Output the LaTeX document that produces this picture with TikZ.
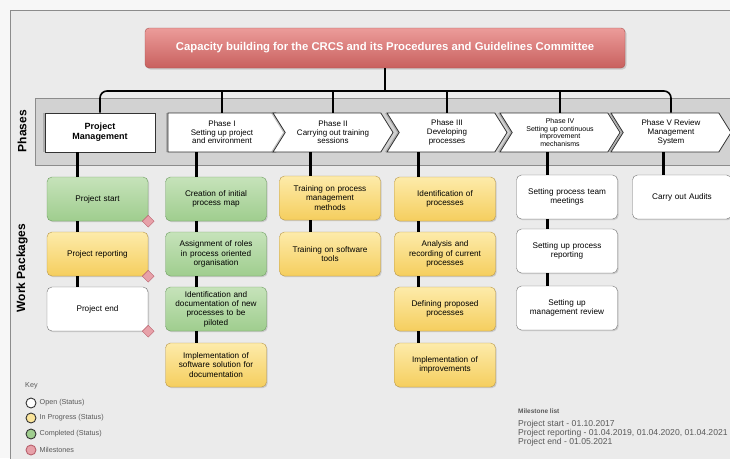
\documentclass[tikz,border=0pt]{standalone}
\usepackage{fontspec}
\setmainfont{Liberation Sans}
\usetikzlibrary{shapes.geometric,shapes.symbols,shadows,positioning}
\definecolor{bgframe}{HTML}{EBEBEB}
\definecolor{bandfill}{HTML}{D2D2D2}
\definecolor{bandline}{HTML}{8C8C8C}
\definecolor{titletop}{HTML}{EC9C9A}
\definecolor{titlebot}{HTML}{C8605E}
\definecolor{greentop}{HTML}{C6E3BA}
\definecolor{greenbot}{HTML}{9FCD8E}
\definecolor{greenline}{HTML}{6F9E62}
\definecolor{yellowtop}{HTML}{FDEBAA}
\definecolor{yellowbot}{HTML}{F5CE5E}
\definecolor{yellowline}{HTML}{B8974A}
\definecolor{msfill}{HTML}{E7A1A9}
\definecolor{msline}{HTML}{B8606C}
\tikzset{
  wpbox/.style={draw, rounded corners=5pt, minimum width=101pt, minimum height=44pt,
    align=center, text width=97pt, inner sep=1pt, font=\fontsize{8.2}{9.3}\selectfont,
    drop shadow={opacity=0.3, shadow xshift=1.2pt, shadow yshift=-1.2pt}},
  wpgreen/.style={wpbox, draw=greenline, top color=greentop, bottom color=greenbot},
  wpyellow/.style={wpbox, draw=yellowline, top color=yellowtop, bottom color=yellowbot},
  wpwhite/.style={wpbox, draw=black!55, fill=white},
  phasebox/.style={draw=black!80, line width=0.8pt, fill=white, minimum height=39pt,
    inner sep=1pt, align=center, font=\fontsize{8}{8.6}\selectfont,
    drop shadow={opacity=0.45, shadow xshift=-2pt, shadow yshift=0pt}},
  chevron/.style={phasebox, shape=signal, signal to=east, signal pointer angle=116,
    minimum width=120pt},
  chevronnotch/.style={chevron, signal from=west},
  titlebox/.style={draw=titlebot!85!black, rounded corners=4pt, top color=titletop,
    bottom color=titlebot, minimum width=480pt, minimum height=40pt, text=white,
    font=\fontsize{11.3}{12}\selectfont\bfseries,
    drop shadow={opacity=0.3, shadow xshift=1.5pt, shadow yshift=-1.5pt}},
  bus/.style={line width=1.6pt, black},
  link/.style={line width=3pt, black},
  milestone/.style={diamond, draw=msline, fill=msfill, minimum size=12pt, inner sep=0pt},
  keycirc/.style={circle, draw=black!80, line width=0.9pt, minimum size=10pt, inner sep=0pt},
  keytext/.style={font=\fontsize{7.2}{8}\selectfont, text=black!65, inner sep=1pt},
  sidelabel/.style={font=\fontsize{12}{13}\selectfont\bfseries, rotate=90}
}
\begin{document}
\begin{tikzpicture}[x=1pt, y=-1pt]
\useasboundingbox (0,0) rectangle (730,458);
% Background and frame
\fill[black!3] (0,0) rectangle (730,458);
\draw[bandline, fill=bgframe] (10,10) rectangle (745,475);
% Phases band
\draw[bandline, fill=bandfill] (35,98) rectangle (745,165);
\node[sidelabel] (phaseslbl) at (22,131) {Phases};
\node[sidelabel] (wplbl) at (22,268) {Work Packages};
% Title
\node[titlebox] (title) at (385,48) {Capacity building for the CRCS and its Procedures and Guidelines Committee};
% Phases
\node[phasebox, minimum width=110pt, font=\fontsize{9}{10}\selectfont\bfseries] (pm) at (100,132.5) {Project\\Management};
\node[chevron] (p1) at (222,132.5) {Phase I\\Setting up project\\and environment};
\node[chevronnotch] (p2) at (333,132.5) {Phase II\\Carrying out training\\sessions};
\node[chevronnotch] (p3) at (447,132.5) {Phase III\\Developing\\processes};
\node[chevronnotch, font=\fontsize{7}{7.4}\selectfont] (p4) at (560,132.5) {Phase IV\\Setting up continuous\\improvement\\mechanisms};
\node[chevronnotch] (p5) at (671,132.5) {Phase V Review\\Management\\System};
% Connector from title to phases
\coordinate (busy) at (0,91);
\draw[bus] (title.south) -- (title.south |- busy);
\draw[bus, rounded corners=7pt] (pm.north) |- (p5.north |- busy) -- (p5.north);
\foreach \n in {p1,p2,p3,p4}
  \draw[bus] (\n.north) -- (\n.north |- busy);
% Work packages: Project Management
\node[wpgreen] (pm1) at (97.5,199) {Project start};
\node[wpyellow] (pm2) at (97.5,254) {Project reporting};
\node[wpwhite] (pm3) at (97.5,309) {Project end};
% Phase I
\node[wpgreen] (a1) at (216,199) {Creation of initial\\process map};
\node[wpgreen] (a2) at (216,254) {Assignment of roles\\in process oriented\\organisation};
\node[wpgreen] (a3) at (216,309) {Identification and\\documentation of new\\processes to be\\piloted};
\node[wpyellow] (a4) at (216,365) {Implementation of\\software solution for\\documentation};
% Phase II
\node[wpyellow] (b1) at (330,198) {Training on process\\management\\methods};
\node[wpyellow] (b2) at (330,254) {Training on software\\tools};
% Phase III
\node[wpyellow] (c1) at (445,199) {Identification of\\processes};
\node[wpyellow] (c2) at (445,254) {Analysis and\\recording of current\\processes};
\node[wpyellow] (c3) at (445,309) {Defining proposed\\processes};
\node[wpyellow] (c4) at (445,365) {Implementation of\\improvements};
% Phase IV
\node[wpwhite] (d1) at (567,197) {Setting process team\\meetings};
\node[wpwhite] (d2) at (567,251) {Setting up process\\reporting};
\node[wpwhite] (d3) at (567,308) {Setting up\\management review};
% Phase V
\node[wpwhite, minimum width=94pt] (e1) at (682,197) {Carry out Audits};
% Links between phases and work packages
\foreach \a/\b/\off in {pm/pm1/20, pm1/pm2/20, pm2/pm3/20,
    p1/a1/20, a1/a2/20, a2/a3/20, a3/a4/20,
    p2/b1/20, b1/b2/20,
    p3/c1/27, c1/c2/27, c2/c3/27, c3/c4/27,
    p4/d1/20, d1/d2/20, d2/d3/20,
    p5/e1/19}
  \draw[link] ([xshift=-\off pt]\b.north) -- ([xshift=-\off pt]\b.north |- \a.south);
% Milestones
\node[milestone] (ms1) at (pm1.south east) {};
\node[milestone] (ms2) at (pm2.south east) {};
\node[milestone] (ms3) at (pm3.south east) {};
% Key
\node[keytext, anchor=west] (keylbl) at (24,386) {Key};
\node[keycirc, fill=white] (key1) at (31,403) {};
\node[keycirc, fill=yellowtop!80!yellowbot] (key2) at (31,418) {};
\node[keycirc, fill=greenbot] (key3) at (31,434) {};
\node[keycirc, draw=msline, fill=msfill] (key4) at (31,450) {};
\node[keytext, right=2pt of key1] (key1lbl) {Open (Status)};
\node[keytext, right=2pt of key2] (key2lbl) {In Progress (Status)};
\node[keytext, right=2pt of key3] (key3lbl) {Completed (Status)};
\node[keytext, right=2pt of key4] (key4lbl) {Milestones};
% Milestone list
\node[keytext, anchor=west, font=\fontsize{6.5}{7}\selectfont\bfseries] (mslbl) at (517,411) {Milestone list};
\node[anchor=north west, align=left, inner sep=0pt, text=black!65,
  font=\fontsize{8.6}{8.8}\selectfont] (mslist) at (518,420)
  {Project start - 01.10.2017\\Project reporting - 01.04.2019, 01.04.2020, 01.04.2021\\Project end - 01.05.2021};
\end{tikzpicture}
\end{document}
